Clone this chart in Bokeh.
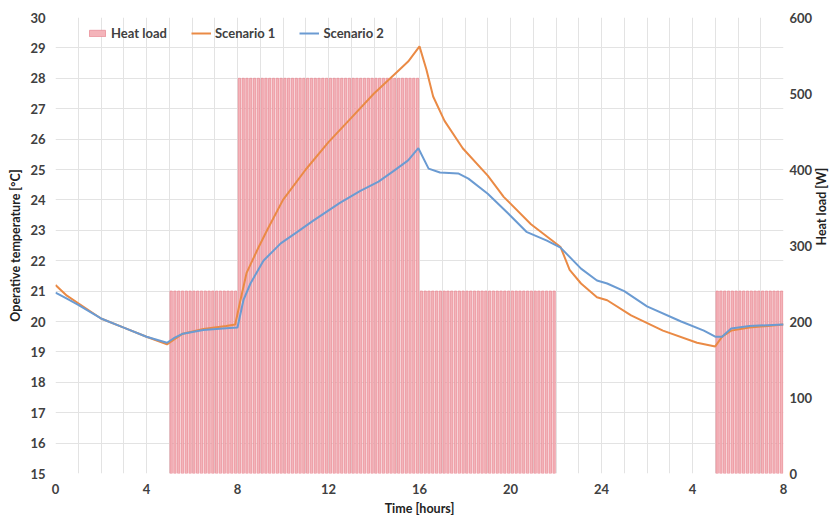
import math
import numpy as np
from bokeh.plotting import figure
from bokeh.models import (Range1d, LinearAxis, FixedTicker, Legend, LegendItem)
from bokeh.embed import file_html
from bokeh.resources import INLINE

# ---------------- data ----------------
# Heat load schedule (W): start hour, end hour, value
hl_start = [0, 5, 8, 16, 22, 29]
hl_end = [5, 8, 16, 22, 29, 32]
hl_value = [0, 240, 520, 240, 0, 240]
hl_step = 1 / 6  # 10-minute time steps

# Scenario 1 (operative temperature, degC)
s1_t = [0, 0.5, 1, 2, 3, 4, 4.9, 5.2, 5.6, 6.5, 7.5, 7.9, 8.1, 8.4, 8.9, 9.3, 10,
        11, 12, 13, 14, 15, 15.5, 16, 16.3, 16.6, 17.1, 17.9, 19, 19.7, 20.9,
        22.2, 22.6, 23.1, 23.8, 24.25, 25.3, 26.7, 28.2, 29.0, 29.3, 29.7, 30.5,
        31.3, 32]
s1_T = [21.2, 20.85, 20.6, 20.1, 19.8, 19.5, 19.25, 19.4, 19.6, 19.75, 19.85,
        19.9, 20.6, 21.6, 22.4, 23.0, 24.0, 25.0, 25.9, 26.7, 27.5, 28.2, 28.55,
        29.05, 28.3, 27.4, 26.6, 25.7, 24.8, 24.1, 23.2, 22.45, 21.7, 21.25,
        20.8, 20.7, 20.2, 19.7, 19.3, 19.18, 19.5, 19.7, 19.8, 19.85, 19.9]

# Scenario 2
s2_t = [0, 0.5, 1, 2, 3, 4, 4.9, 5.2, 5.6, 6.5, 7.5, 8.0, 8.26, 8.57, 9.14, 9.9,
        10.6, 11.3, 12.5, 13.4, 14.2, 14.9, 15.5, 15.95, 16.4, 16.9, 17.7, 18.15,
        19.0, 19.9, 20.7, 21.6, 22.2, 22.5, 23.1, 23.8, 24.25, 25, 26, 27.5,
        28.5, 29.0, 29.3, 29.7, 30.5, 31.3, 32]
s2_T = [20.95, 20.75, 20.55, 20.1, 19.8, 19.5, 19.3, 19.45, 19.6, 19.72, 19.78,
        19.8, 20.7, 21.25, 22.0, 22.57, 22.93, 23.3, 23.9, 24.3, 24.6, 24.97,
        25.3, 25.7, 25.03, 24.9, 24.87, 24.7, 24.2, 23.55, 22.95, 22.66, 22.43,
        22.2, 21.74, 21.35, 21.25, 21.0, 20.5, 20.0, 19.7, 19.5, 19.5, 19.77,
        19.85, 19.88, 19.9]

x_ticks = [0, 4, 8, 12, 16, 20, 24, 28, 32]
x_tick_labels = ["0", "4", "8", "12", "16", "20", "24", "4", "8"]
y_ticks = list(range(15, 31))
hl_ticks = [0, 100, 200, 300, 400, 500, 600]

# expand schedule into time-step bars
bar_x, bar_top = [], []
for a, b, v in zip(hl_start, hl_end, hl_value):
    n = int(round((b - a) / hl_step))
    for i in range(n):
        if v > 0:
            bar_x.append(a + (i + 0.5) * hl_step)
            bar_top.append(v)

FONT = "Lato"
TXT = "#404040"

p = figure(width=839, height=520, output_backend="svg", toolbar_location=None,
           x_range=Range1d(0, 32), y_range=Range1d(15, 30),
           min_border_left=55, min_border_right=56, min_border_top=17,
           min_border_bottom=47, outline_line_color=None)
p.extra_y_ranges = {"heat": Range1d(0, 600)}

bars = p.vbar(x=bar_x, top=bar_top, bottom=0, width=hl_step * 0.62,
              y_range_name="heat", fill_color="#f4b4ba", line_color="#e6858f",
              line_width=0.7)
l1 = p.line(s1_t, s1_T, line_color="#ea8a45", line_width=2)
l2 = p.line(s2_t, s2_T, line_color="#6b9bd2", line_width=2)

# grids
p.xgrid.ticker = FixedTicker(ticks=list(range(0, 33)))
p.ygrid.ticker = FixedTicker(ticks=y_ticks)
for g in (p.xgrid, p.ygrid):
    g.grid_line_color = "#e3e3e3"
    g.grid_line_width = 1


def style_axis(ax):
    ax.axis_line_color = None
    ax.major_tick_line_color = None
    ax.minor_tick_line_color = None
    ax.major_tick_out = 0
    ax.major_tick_in = 0
    ax.minor_tick_out = 0
    ax.minor_tick_in = 0
    ax.major_label_text_font = FONT
    ax.major_label_text_font_style = "bold"
    ax.major_label_text_font_size = "13px"
    ax.major_label_text_color = TXT
    ax.axis_label_text_font = FONT
    ax.axis_label_text_font_style = "bold"
    ax.axis_label_text_font_size = "12.5px"
    ax.axis_label_text_color = "#222222"


p.xaxis.ticker = FixedTicker(ticks=x_ticks)
p.xaxis.major_label_overrides = {t: s for t, s in zip(x_ticks, x_tick_labels)}
p.xaxis.axis_label = "Time [hours]"
style_axis(p.xaxis[0])
p.xaxis.major_label_standoff = 10
p.xaxis.axis_label_standoff = 4
p.yaxis.ticker = FixedTicker(ticks=y_ticks)
p.yaxis.axis_label = "Operative temperature [°C]"
style_axis(p.yaxis[0])
p.yaxis.major_label_standoff = 10
p.yaxis.axis_label_standoff = 4

ax_r = LinearAxis(y_range_name="heat", ticker=FixedTicker(ticks=hl_ticks),
                  axis_label="Heat load [W]")
style_axis(ax_r)
ax_r.major_label_standoff = 6
ax_r.axis_label_standoff = 6
ax_r.axis_label_orientation = math.pi / 2
p.add_layout(ax_r, "right")

legend = Legend(items=[LegendItem(label="Heat load", renderers=[bars]),
                       LegendItem(label="Scenario 1", renderers=[l1]),
                       LegendItem(label="Scenario 2", renderers=[l2])],
                orientation="horizontal", location=(32, 432),
                background_fill_alpha=0, border_line_color=None,
                label_text_font=FONT, label_text_font_style="bold",
                label_text_font_size="13px", label_text_color=TXT,
                glyph_width=20, glyph_height=8, spacing=24, padding=0,
                label_standoff=4)
p.add_layout(legend, "center")

open("out.html", "w").write(file_html(p, INLINE))
